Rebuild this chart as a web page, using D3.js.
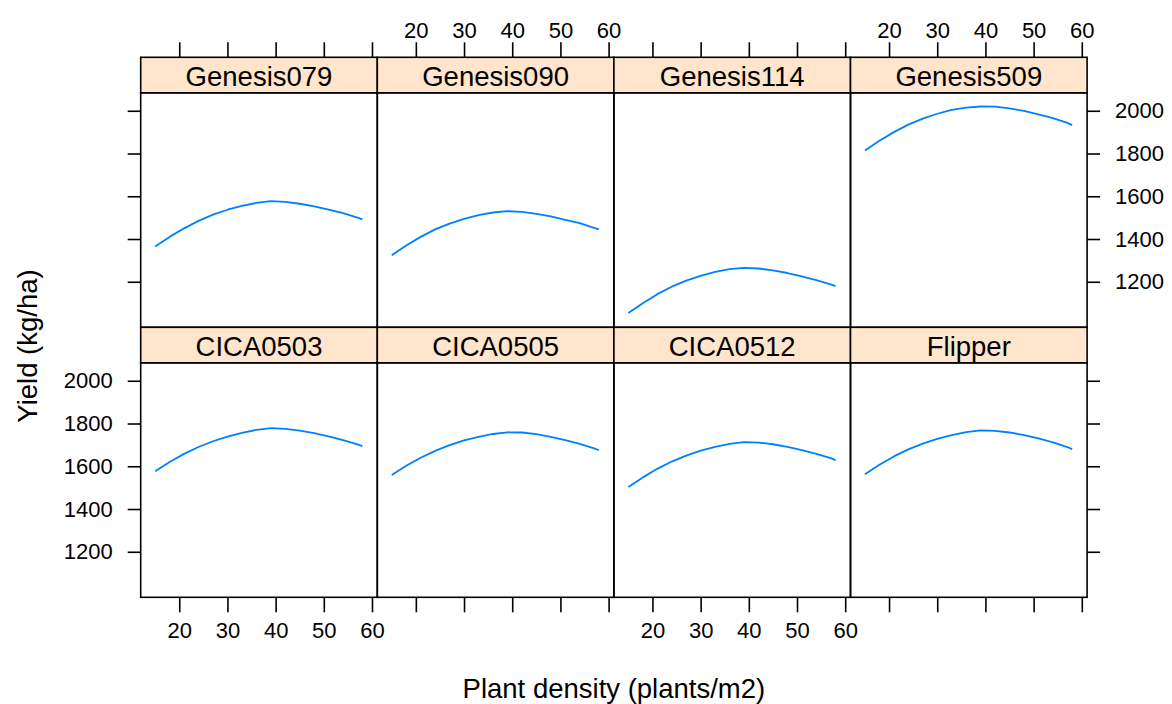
<!DOCTYPE html>
<html>
<head>
<meta charset="utf-8">
<script src="https://cdn.jsdelivr.net/npm/d3@7"></script>
<style>
  body { margin: 0; background: #fff; }
  svg { display: block; font-family: "Liberation Sans", Arial, Helvetica, sans-serif; }
</style>
</head>
<body>
<svg id="chart" width="1172" height="704"></svg>
<script>
// Plant densities at which each fitted yield curve is evaluated (plants/m2)
const density = [15, 18, 21, 24, 27, 30, 33, 36, 39, 42, 45, 48, 51, 54, 57, 58];

// Fitted yield (kg/ha) per variety
const genesis079 = [1365, 1410, 1450, 1485, 1514, 1537, 1555, 1569, 1577, 1574, 1565, 1553, 1537, 1521, 1500, 1492];
const genesis090 = [1324, 1370, 1410, 1445, 1472, 1494, 1512, 1524, 1530, 1527, 1518, 1506, 1490, 1474, 1452, 1445];
const genesis114 = [1054, 1100, 1142, 1177, 1205, 1228, 1246, 1259, 1265, 1262, 1253, 1241, 1225, 1208, 1188, 1180];
const genesis509 = [1814, 1860, 1900, 1935, 1963, 1986, 2004, 2015, 2020, 2019, 2011, 1999, 1983, 1966, 1943, 1933];
const cica0503  = [1577, 1620, 1658, 1690, 1717, 1739, 1756, 1770, 1778, 1775, 1767, 1755, 1740, 1722, 1702, 1694];
const cica0505  = [1559, 1602, 1640, 1672, 1699, 1721, 1738, 1751, 1759, 1758, 1750, 1738, 1722, 1705, 1684, 1675];
const cica0512  = [1503, 1548, 1588, 1622, 1650, 1673, 1691, 1705, 1713, 1711, 1703, 1691, 1676, 1658, 1638, 1629];
const flipper   = [1563, 1607, 1646, 1679, 1706, 1728, 1746, 1760, 1768, 1766, 1758, 1746, 1730, 1712, 1690, 1680];

// Panel order: top row first, then bottom row
const varieties = ["Genesis079", "Genesis090", "Genesis114", "Genesis509",
                   "CICA0503", "CICA0505", "CICA0512", "Flipper"];
const yields = [genesis079, genesis090, genesis114, genesis509,
                cica0503, cica0505, cica0512, flipper];

const xTicks = [20, 30, 40, 50, 60];
const yTicks = [1200, 1400, 1600, 1800, 2000];

const xTitle = "Plant density (plants/m2)";
const yTitle = "Yield (kg/ha)";

// Layout
const gridLeft = 140.7, panelW = 236.6;
const gridTop = 57.3, stripH = 35.5, panelH = 234.5;
const rowH = stripH + panelH;
const xTickLen = 15, yTickLen = 13;
const axisFont = 22, mainFont = 27.5;
const stripFill = "#ffe5cc", lineCol = "#0080ff";

const svg = d3.select("#chart");

const x = d3.scaleLinear().domain([12, 61.1]).range([0, panelW]);
const y = d3.scaleLinear().domain([987, 2084]).range([panelH, 0]);

const line = d3.line().x((d, i) => x(density[i])).y(d => y(d));

varieties.forEach((name, k) => {
  const row = Math.floor(k / 4), col = k % 4;
  const px = gridLeft + col * panelW;
  const sy = gridTop + row * rowH;
  const py = sy + stripH;
  const g = svg.append("g").attr("transform", `translate(${px},${py})`);

  // curve
  g.append("path")
    .datum(yields[k])
    .attr("d", line)
    .attr("fill", "none")
    .attr("stroke", lineCol)
    .attr("stroke-width", 1.8)
    .attr("stroke-linejoin", "round");

  // panel frame
  g.append("rect")
    .attr("x", 0).attr("y", 0)
    .attr("width", panelW).attr("height", panelH)
    .attr("fill", "none").attr("stroke", "#000").attr("stroke-width", 1.6);

  // strip
  const s = svg.append("g").attr("transform", `translate(${px},${sy})`);
  s.append("rect")
    .attr("width", panelW).attr("height", stripH)
    .attr("fill", stripFill).attr("stroke", "#000").attr("stroke-width", 1.6);
  s.append("text")
    .attr("x", panelW / 2).attr("y", stripH / 2 + 1)
    .attr("text-anchor", "middle").attr("dominant-baseline", "central")
    .attr("font-size", mainFont).attr("fill", "#000")
    .text(name);

  // x axis: top row above strips, bottom row below panels; labels alternate
  if (row === 0) {
    const ax = d3.axisTop(x).tickValues(xTicks).tickSize(xTickLen).tickPadding(4)
      .tickFormat(col % 2 === 1 ? d3.format("d") : () => "");
    svg.append("g").attr("class", "ax").attr("transform", `translate(${px},${sy})`).call(ax);
  } else {
    const ax = d3.axisBottom(x).tickValues(xTicks).tickSize(xTickLen).tickPadding(10)
      .tickFormat(col % 2 === 0 ? d3.format("d") : () => "");
    svg.append("g").attr("class", "ax").attr("transform", `translate(${px},${py + panelH})`).call(ax);
  }

  // y axis: left column and right column; labels alternate by row
  if (col === 0) {
    const ay = d3.axisLeft(y).tickValues(yTicks).tickSize(yTickLen).tickPadding(15)
      .tickFormat(row === 1 ? d3.format("d") : () => "");
    svg.append("g").attr("class", "ax").attr("transform", `translate(${px},${py})`).call(ay);
  }
  if (col === 3) {
    const ay = d3.axisRight(y).tickValues(yTicks).tickSize(yTickLen).tickPadding(15)
      .tickFormat(row === 0 ? d3.format("d") : () => "");
    svg.append("g").attr("class", "ax").attr("transform", `translate(${px + panelW},${py})`).call(ay);
  }
});

svg.selectAll(".ax .domain").remove();
svg.selectAll(".ax line").attr("stroke", "#000").attr("stroke-width", 1.6);
svg.selectAll(".ax text").attr("font-size", axisFont).attr("fill", "#000")
  .attr("font-family", "Liberation Sans, Arial, sans-serif");

// axis titles
svg.append("text")
  .attr("x", gridLeft + 2 * panelW).attr("y", 698)
  .attr("text-anchor", "middle").attr("font-size", mainFont).attr("fill", "#000")
  .text(xTitle);
svg.append("text")
  .attr("transform", `translate(37,346) rotate(-90)`)
  .attr("text-anchor", "middle").attr("font-size", mainFont).attr("fill", "#000")
  .text(yTitle);
</script>
</body>
</html>
